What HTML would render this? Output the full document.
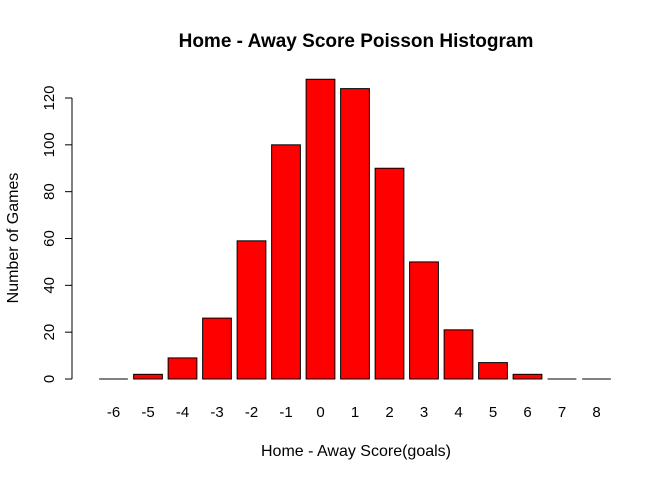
<!DOCTYPE html>
<html><head><meta charset="utf-8"><style>
body{margin:0;background:#fff;}
svg{display:block;font-family:"Liberation Sans",sans-serif;}
</style></head><body>
<svg id="chart" width="672" height="480">
<text x="356" y="47" text-anchor="middle" font-size="19" font-weight="bold">Home - Away Score Poisson Histogram</text>
<text x="356" y="456" text-anchor="middle" font-size="16">Home - Away Score(goals)</text>
<text transform="translate(18,238) rotate(-90)" text-anchor="middle" font-size="16">Number of Games</text>
<g id="bars"></g><g id="yaxis"></g><g id="xlabels"></g>
</svg>
<script>
const categories=[-6,-5,-4,-3,-2,-1,0,1,2,3,4,5,6,7,8];
const counts=[0,2,9,26,59,100,128,124,90,50,21,7,2,0,0];
const yTicks=[0,20,40,60,80,100,120];
const NS="http://www.w3.org/2000/svg";
const y0=379,pxPer=(379-98)/120;
const yScale=v=>y0-v*pxPer;
const step=34.5,bw=28.75,firstC=113.5;
const xScale=i=>firstC+i*step;
const bars=document.getElementById('bars');
counts.forEach((v,i)=>{
  let r;
  if(v===0){
    r=document.createElementNS(NS,'line');
    r.setAttribute('x1',xScale(i)-bw/2);r.setAttribute('x2',xScale(i)+bw/2);
    r.setAttribute('y1',y0);r.setAttribute('y2',y0);r.setAttribute('stroke','#000');
  } else {
    r=document.createElementNS(NS,'rect');
    r.setAttribute('x',xScale(i)-bw/2);r.setAttribute('y',yScale(v));
    r.setAttribute('width',bw);r.setAttribute('height',y0-yScale(v));
    r.setAttribute('fill','#ff0000');r.setAttribute('stroke','#000');r.setAttribute('stroke-width','1');
  }
  
  
  bars.appendChild(r);
});
const xl=document.getElementById('xlabels');
categories.forEach((c,i)=>{
  const t=document.createElementNS(NS,'text');
  t.setAttribute('x',xScale(i));t.setAttribute('y',417);t.setAttribute('text-anchor','middle');t.setAttribute('font-size','15');
  t.textContent=c;
  
  
  xl.appendChild(t);
});
const ya=document.getElementById('yaxis');
const ax=document.createElementNS(NS,'line');
ax.setAttribute('x1',72);ax.setAttribute('x2',72);ax.setAttribute('y1',yScale(yTicks[0]));ax.setAttribute('y2',yScale(yTicks[yTicks.length-1]));ax.setAttribute('stroke','#000');


ya.appendChild(ax);
yTicks.forEach(v=>{
  const l=document.createElementNS(NS,'line');
  l.setAttribute('x1',65);l.setAttribute('x2',72);l.setAttribute('y1',yScale(v));l.setAttribute('y2',yScale(v));l.setAttribute('stroke','#000');
  
  
  ya.appendChild(l);
  const t=document.createElementNS(NS,'text');
  t.setAttribute('transform','translate(54,'+yScale(v)+') rotate(-90)');t.setAttribute('text-anchor','middle');t.setAttribute('font-size','15');
  t.textContent=v;
  
  
  ya.appendChild(t);
});
</script>
</body></html>
